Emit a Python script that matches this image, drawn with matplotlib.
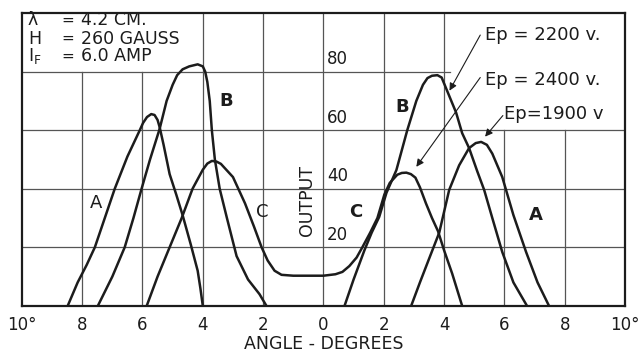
import matplotlib
matplotlib.use("Agg")
import matplotlib.pyplot as plt

plt.rcParams['font.family'] = ['DejaVu Sans']

# curve A  (Ep = 1900 v)
a_left_x = [-8.48, -8.15, -7.85, -7.58, -7.25, -6.92, -6.5, -6.09, -5.98, -5.85, -5.71, -5.6, -5.5, -5.43, -5.3, -5.1, -4.88, -4.67, -4.4, -4.17, -4.08, -4.0]
a_left_y = [0, 8, 14, 20, 30, 40, 51, 60, 62.5, 64.5, 65.5, 65.2, 63.5, 61, 55, 45, 38, 31, 21, 12, 6, 0]
a_right_x = [2.91, 3.2, 3.5, 3.84, 4.17, 4.5, 4.83, 5.05, 5.23, 5.42, 5.6, 5.93, 6.3, 6.72, 7.1, 7.48]
a_right_y = [0, 8, 16, 25, 39.6, 48, 53.9, 55.6, 56, 55, 52, 44, 31, 18.4, 8, 0]

# curve B  (Ep = 2200 v)
b_left_x = [-7.48, -7.0, -6.59, -6.3, -6.03, -5.75, -5.43, -5.2, -5.0, -4.85, -4.67, -4.45, -4.17, -4.0, -3.92, -3.85, -3.77, -3.7, -3.6, -3.44, -3.2, -2.88, -2.5, -2.12, -1.89]
b_left_y = [0, 10, 20, 30, 40, 50, 60.5, 70, 75.5, 78.8, 80.8, 81.8, 82.5, 81.8, 80, 76.5, 70, 60, 50, 40, 30, 17, 9, 4, 0]
b_right_x = [0.7, 1.0, 1.36, 1.6, 1.85, 2.09, 2.42, 2.78, 3.08, 3.3, 3.45, 3.6, 3.78, 3.92, 4.0, 4.2, 4.4, 4.6, 4.83, 5.1, 5.33, 5.6, 5.93, 6.3, 6.75]
b_right_y = [0, 9, 19, 25, 30.4, 38.6, 46.4, 60, 70, 75.5, 77.8, 78.6, 78.8, 78, 76, 71, 66, 59, 53.9, 46, 39.6, 30, 18.4, 8, 0]

# curve C  (Ep = 2400 v), one trace across the centre
c_x = [-5.86, -5.5, -5.1, -4.7, -4.34, -4.0, -3.85, -3.7, -3.55, -3.4, -3.0, -2.6, -2.3, -2.05, -1.85, -1.62, -1.39, -1.0, 0.0, 0.4, 0.63, 0.86, 1.1, 1.29, 1.55, 1.79, 2.02, 2.2, 2.45, 2.6, 2.75, 2.9, 3.05, 3.2, 3.4, 3.6, 3.8, 4.0, 4.27, 4.45, 4.6]
c_y = [0, 10, 20, 30, 40, 46.5, 48.6, 49.5, 49.3, 48.5, 44, 35, 27, 20, 15.5, 12, 10.6, 10.3, 10.3, 10.8, 11.6, 13.6, 16.5, 20, 25, 30, 38, 42, 44.8, 45.4, 45.5, 45, 43.8, 40.5, 35, 30, 25.5, 19, 11, 5, 0]

x_ticks = [-10, -8, -6, -4, -2, 0, 2, 4, 6, 8, 10]
x_labels = ['10°', '8', '6', '4', '2', '0', '2', '4', '6', '8', '10°']
y_ticks = [20, 40, 60, 80]

ink = '#1c1c1c'
gridc = '#555555'

fig = plt.figure(figsize=(6.43, 3.54), dpi=100)
ax = fig.add_axes([0.034, 0.136, 0.938, 0.827])
ax.set_xlim(-10, 10)
ax.set_ylim(0, 100)

# grid, left blank where the notes sit
for gx in [-8, -6]:
    ax.plot([gx, gx], [0, 80], color=gridc, lw=0.9, zorder=1)
for gx in [-4, -2, 0, 2, 4]:
    ax.plot([gx, gx], [0, 100], color=gridc, lw=0.9, zorder=1)
for gx in [6, 8]:
    ax.plot([gx, gx], [0, 60], color=gridc, lw=0.9, zorder=1)
for gy in [20, 40, 60]:
    ax.plot([-10, 10], [gy, gy], color=gridc, lw=0.9, zorder=1)
ax.plot([-10, 4.2], [80, 80], color=gridc, lw=0.9, zorder=1)

for xs, ys in [(a_left_x, a_left_y), (a_right_x, a_right_y),
               (b_left_x, b_left_y), (b_right_x, b_right_y), (c_x, c_y)]:
    ax.plot(xs, ys, color=ink, lw=1.8, zorder=3, solid_joinstyle='round', solid_capstyle='round')

for s in ax.spines.values():
    s.set_color(ink)
    s.set_linewidth(1.6)

ax.set_xticks(x_ticks)
ax.set_xticklabels(x_labels, fontsize=12, color=ink)
ax.set_yticks([])
ax.tick_params(axis='x', length=0, pad=7)
ax.set_xlabel('ANGLE - DEGREES', fontsize=12.5, color=ink, labelpad=1)

for yt in y_ticks:
    ax.text(0.12, yt + 1.2, str(yt), fontsize=12, color=ink, ha='left', va='bottom')
ax.text(-0.55, 36, 'OUTPUT', rotation=90, fontsize=12.5, color=ink, ha='center', va='center')

# curve letters
ax.text(-7.55, 35, 'A', fontsize=13, color=ink, ha='center', va='center')
ax.text(-3.22, 70, 'B', fontsize=13, color=ink, ha='center', va='center', fontweight='bold')
ax.text(-2.02, 32, 'C', fontsize=13, color=ink, ha='center', va='center')
ax.text(1.06, 32, 'C', fontsize=13, color=ink, ha='center', va='center', fontweight='bold')
ax.text(2.6, 68, 'B', fontsize=13, color=ink, ha='center', va='center', fontweight='bold')
ax.text(7.05, 31, 'A', fontsize=13, color=ink, ha='center', va='center', fontweight='bold')

# operating conditions
notes = [('λ', '4.2 CM.', 97.5), ('H', '260 GAUSS', 91.3), ('$\\mathregular{I_F}$', '6.0 AMP', 85.2)]
for sym, val, yy in notes:
    ax.text(-9.8, yy, sym, fontsize=12.5, color=ink, ha='left', va='center')
    ax.text(-8.7, yy, '=', fontsize=11, color=ink, ha='left', va='center')
    ax.text(-8.05, yy, val, fontsize=12.5, color=ink, ha='left', va='center')

# anode voltage notes with arrows
arrow = dict(arrowstyle='-|>', color=ink, lw=0.8, mutation_scale=11, shrinkA=0, shrinkB=0)
ax.text(5.35, 92.5, 'Ep = 2200 v.', fontsize=13, color=ink, ha='left', va='center')
ax.annotate('', xy=(4.18, 73.5), xytext=(5.2, 92.5), arrowprops=arrow, zorder=4)
ax.text(5.35, 77, 'Ep = 2400 v.', fontsize=13, color=ink, ha='left', va='center')
ax.annotate('', xy=(3.08, 47.5), xytext=(5.2, 78), arrowprops=arrow, zorder=4)
ax.text(6.0, 65.5, 'Ep=1900 v', fontsize=13, color=ink, ha='left', va='center')
ax.annotate('', xy=(5.36, 57.8), xytext=(5.95, 65), arrowprops=arrow, zorder=4)

fig.savefig('out.png', dpi=100)
